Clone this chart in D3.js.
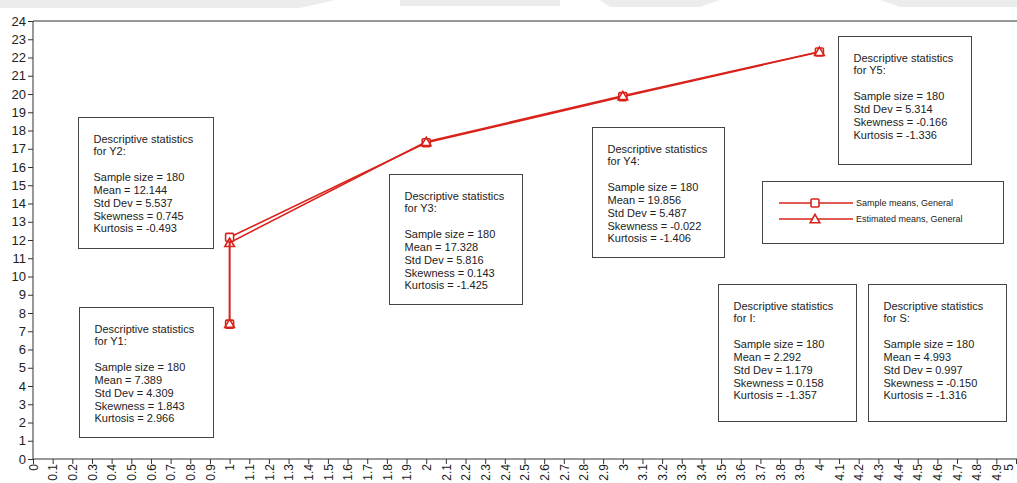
<!DOCTYPE html>
<html><head><meta charset="utf-8">
<script src="https://cdn.jsdelivr.net/npm/d3@7"></script>
<style>body{margin:0;background:#fff}svg{display:block}text{font-family:"Liberation Sans",Arial,sans-serif}</style>
</head><body><svg id="c" width="1017" height="483"></svg>
<script>
// ---- data ----
const timePoints = [1, 1, 2, 3, 4];
const sampleMeans = [7.389, 12.144, 17.328, 19.856, 22.30];
const estimatedMeans = [7.42, 11.85, 17.38, 19.90, 22.32];
const seriesNames = ["Sample means, General", "Estimated means, General"];
const statVars = ["Y1", "Y2", "Y3", "Y4", "Y5", "I", "S"];
const statN = [180, 180, 180, 180, 180, 180, 180];
const statMean = ["7.389", "12.144", "17.328", "19.856", null, "2.292", "4.993"];
const statSD = ["4.309", "5.537", "5.816", "5.487", "5.314", "1.179", "0.997"];
const statSkew = ["1.843", "0.745", "0.143", "-0.022", "-0.166", "0.158", "-0.150"];
const statKurt = ["2.966", "-0.493", "-1.425", "-1.406", "-1.336", "-1.357", "-1.316"];
const xTicks = d3.range(0, 51).map(i => i / 10);
const yTicks = d3.range(0, 25);

// ---- layout ----
const W = 1017, H = 483;
const x = d3.scaleLinear().domain([0, 5]).range([33, 1016]);
const y = d3.scaleLinear().domain([0, 24]).range([459, 21]);
const red = "#d8231b";
const axisCol = "#333";

const svg = d3.select("#c");

// faint top watermark remnant
const wm = svg.append("g").attr("fill", "#ececec");
wm.append("path").attr("d", "M0,0 H335 L300,8 H0 Z");
wm.append("rect").attr("x", 400).attr("y", 0).attr("width", 160).attr("height", 6);
wm.append("path").attr("d", "M600,0 H720 L700,7 H610 Z");
wm.append("path").attr("d", "M880,0 H1017 V7 H900 Z");

// top frame line
svg.append("line").attr("x1", x(0)).attr("x2", W).attr("y1", y(24)).attr("y2", y(24))
  .attr("stroke", axisCol).attr("stroke-width", 1);

// y axis
const yAxis = svg.append("g").attr("transform", `translate(${x(0)},0)`)
  .call(d3.axisLeft(y).tickValues(yTicks).tickSize(5).tickPadding(2).tickFormat(d3.format("d")));
yAxis.selectAll("path,line").attr("stroke", axisCol);
yAxis.select(".domain").attr("d", `M0,${y(24)}V${y(0)}`);
yAxis.selectAll("text").attr("font-size", 13).attr("fill", "#222")
  .attr("font-family", "'Liberation Sans',Arial,sans-serif");

// x axis
const xAxis = svg.append("g").attr("transform", `translate(0,${y(0)})`)
  .call(d3.axisBottom(x).tickValues(xTicks).tickSize(5).tickFormat(d => String(+d.toFixed(1))));
xAxis.selectAll("path,line").attr("stroke", axisCol);
xAxis.select(".domain").attr("d", `M${x(0)},0H${W}`);
xAxis.selectAll("text").attr("font-size", 12).attr("fill", "#222")
  .attr("font-family", "'Liberation Sans',Arial,sans-serif")
  .attr("text-anchor", "end").attr("y", 0).attr("dy", "0.35em")
  .attr("transform", d => d === 5 ? "translate(-8,5) rotate(-90)" : "translate(0,5) rotate(-90)");

// ---- annotation boxes (anchored in data units) ----
const boxAnchors = {
  Y1: [0.235, 8.35, 0.68, 7.1],
  Y2: [0.228, 18.75, 0.685, 7.2],
  Y3: [1.812, 15.6, 0.675, 7.1],
  Y4: [2.843, 18.2, 0.67, 7.15],
  Y5: [4.096, 23.2, 0.675, 7.0],
  I: [3.482, 9.6, 0.70, 7.5],
  S: [4.249, 9.6, 0.70, 7.5]
};
const boxes = svg.append("g");
statVars.forEach((v, i) => {
  const [bx, by, bw, bh] = boxAnchors[v];
  const px = Math.round(x(bx)) + 0.5, py = Math.round(y(by)) + 0.5;
  const pw = Math.round(x(bx + bw) - x(bx)), ph = Math.round(y(by - bh) - y(by));
  const g = boxes.append("g");
  g.append("rect").attr("x", px).attr("y", py).attr("width", pw).attr("height", ph)
    .attr("fill", "#fff").attr("stroke", "#444").attr("stroke-width", 1);
  const hasMean = statMean[i] !== null;
  const lines = [
    ["Descriptive statistics", 0], ["for " + v + ":", 1],
    ["Sample size = " + statN[i], 3],
    ...(hasMean ? [["Mean = " + statMean[i], 4]] : []),
    ["Std Dev = " + statSD[i], hasMean ? 5 : 4],
    ["Skewness = " + statSkew[i], hasMean ? 6 : 5],
    ["Kurtosis = " + statKurt[i], hasMean ? 7 : 6]
  ];
  const lh = 12.85;
  const top0 = py + 25;
  lines.forEach(([t, k]) => {
    g.append("text").attr("x", px + 15).attr("y", top0 + k * lh)
      .attr("font-size", 11).attr("fill", "#222").text(t);
  });
});

// ---- series ----
const pts = (vals) => vals.map((v, i) => [timePoints[i], v]);
const line = d3.line().x(d => x(d[0])).y(d => y(d[1]));
const series = [pts(sampleMeans), pts(estimatedMeans)];
series.forEach(s => {
  svg.append("path").attr("d", line(s)).attr("fill", "none")
    .attr("stroke", red).attr("stroke-width", 1.6);
});
const rsq = "M-3,-4 H3 Q4,-4 4,-3 V3 Q4,4 3,4 H-3 Q-4,4 -4,3 V-3 Q-4,-4 -3,-4 Z";
const tri = d3.symbol().type(d3.symbolTriangle).size(40);
svg.append("g").selectAll("path").data(series[0]).join("path")
  .attr("transform", d => `translate(${x(d[0])},${y(d[1])})`)
  .attr("d", rsq)
  .attr("fill", "#fff").attr("stroke", red).attr("stroke-width", 1.6);
svg.append("g").selectAll("path").data(series[1]).join("path")
  .attr("transform", d => `translate(${x(d[0])},${y(d[1]) + 1})`)
  .attr("d", tri).attr("fill", "none").attr("stroke", red).attr("stroke-width", 1.6);

// ---- legend ----
const lg = svg.append("g");
lg.append("rect").attr("x", 762.5).attr("y", 181.5).attr("width", 241).attr("height", 62)
  .attr("fill", "#fff").attr("stroke", "#444");
seriesNames.forEach((n, i) => {
  const ly = 203 + i * 16;
  lg.append("line").attr("x1", 779).attr("x2", 853).attr("y1", ly).attr("y2", ly)
    .attr("stroke", red).attr("stroke-width", 1.6);
  lg.append("path").attr("transform", `translate(815,${ly + (i ? 1 : 0)})`)
    .attr("d", i === 0 ? rsq : tri)
    .attr("fill", "#fff").attr("stroke", red).attr("stroke-width", 1.6);
  lg.append("text").attr("x", 856).attr("y", ly).attr("dy", "0.35em")
    .attr("font-size", 9).attr("fill", "#222").text(n);
});
</script></body></html>
